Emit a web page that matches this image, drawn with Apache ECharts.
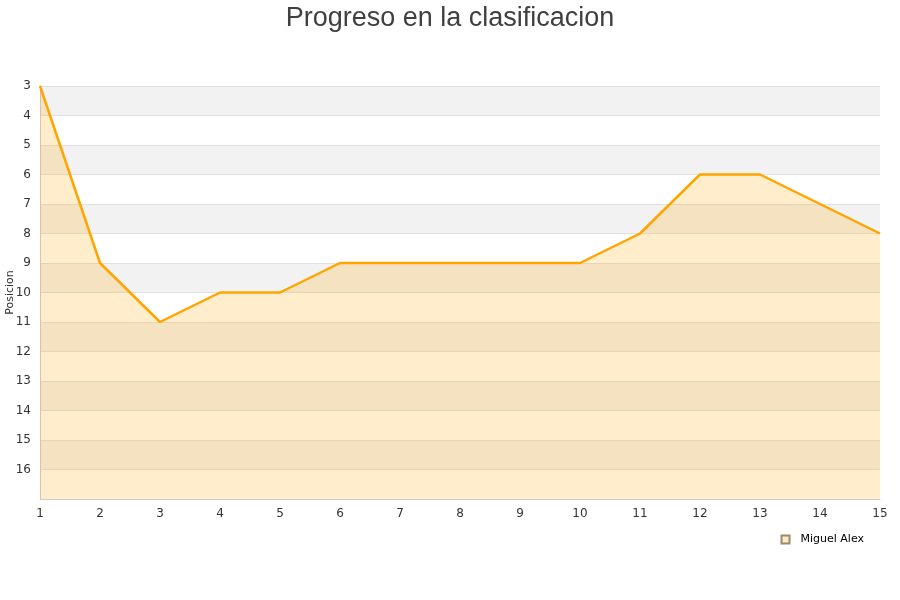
<!DOCTYPE html>
<html>
<head>
<meta charset="utf-8">
<script src="https://cdn.jsdelivr.net/npm/echarts@6/dist/echarts.min.js"></script>
<style>
  html, body { margin: 0; padding: 0; background: #fff; }
  #chart { width: 900px; height: 600px; }
</style>
</head>
<body>
<div id="chart"></div>
<script>
// Matchdays (jornadas) and the league position after each one
const jornadas = ['1', '2', '3', '4', '5', '6', '7', '8', '9', '10', '11', '12', '13', '14', '15'];
const posiciones = [3, 9, 11, 10, 10, 9, 9, 9, 9, 9, 8, 6, 6, 7, 8];
const jugador = 'Miguel Alex';
const posMin = 3;
const posMax = 17;

const chart = echarts.init(document.getElementById('chart'), null, { renderer: 'canvas' });

chart.setOption({
  animation: false,
  backgroundColor: '#ffffff',
  title: {
    text: 'Progreso en la clasificacion',
    left: 'center',
    top: 0,
    textStyle: {
      fontFamily: 'Liberation Sans',
      fontSize: 27,
      fontWeight: 'normal',
      color: '#404040'
    }
  },
  legend: {
    data: [jugador],
    right: 31,
    top: 529,
    icon: 'rect',
    itemWidth: 8,
    itemHeight: 8,
    itemGap: 10,
    textStyle: { fontFamily: 'DejaVu Sans', fontSize: 11, color: '#000', padding: [0, 0, 0, 6] }
  },
  grid: { left: 40, right: 20, top: 86, bottom: 101, containLabel: false, outerBoundsMode: 'none' },
  xAxis: {
    type: 'category',
    data: jornadas,
    boundaryGap: false,
    axisLine: { show: true, lineStyle: { color: '#cccccc' } },
    axisTick: { show: false },
    axisLabel: { fontFamily: 'DejaVu Sans', fontSize: 12, color: '#333', margin: 9 },
    splitLine: { show: false }
  },
  yAxis: {
    type: 'value',
    inverse: true,
    min: posMin,
    max: posMax,
    interval: 1,
    name: 'Posicion',
    nameLocation: 'middle',
    nameGap: 24,
    nameMoveOverlap: false,
    nameRotate: 90,
    nameTextStyle: { fontFamily: 'DejaVu Sans', fontSize: 11, color: '#333' },
    axisLine: { show: true, lineStyle: { color: '#cccccc' } },
    axisTick: { show: false },
    axisLabel: {
      fontFamily: 'DejaVu Sans', fontSize: 12, color: '#333', margin: 9,
      formatter: v => (v === posMax ? '' : String(v))
    },
    splitLine: { show: true, lineStyle: { color: '#e0e0e0', width: 1 } },
    splitArea: { show: true, areaStyle: { color: ['#f2f2f2', '#ffffff'] } }
  },
  series: [{
    name: jugador,
    type: 'line',
    data: posiciones,
    symbol: 'none',
    lineStyle: { color: '#ffa500', width: 2.5 },
    itemStyle: { color: '#ffe9c4', borderColor: '#9a8a70', borderWidth: 1 },
    areaStyle: { color: '#ffa500', opacity: 0.2, origin: 'end' }
  }]
});
</script>
</body>
</html>
